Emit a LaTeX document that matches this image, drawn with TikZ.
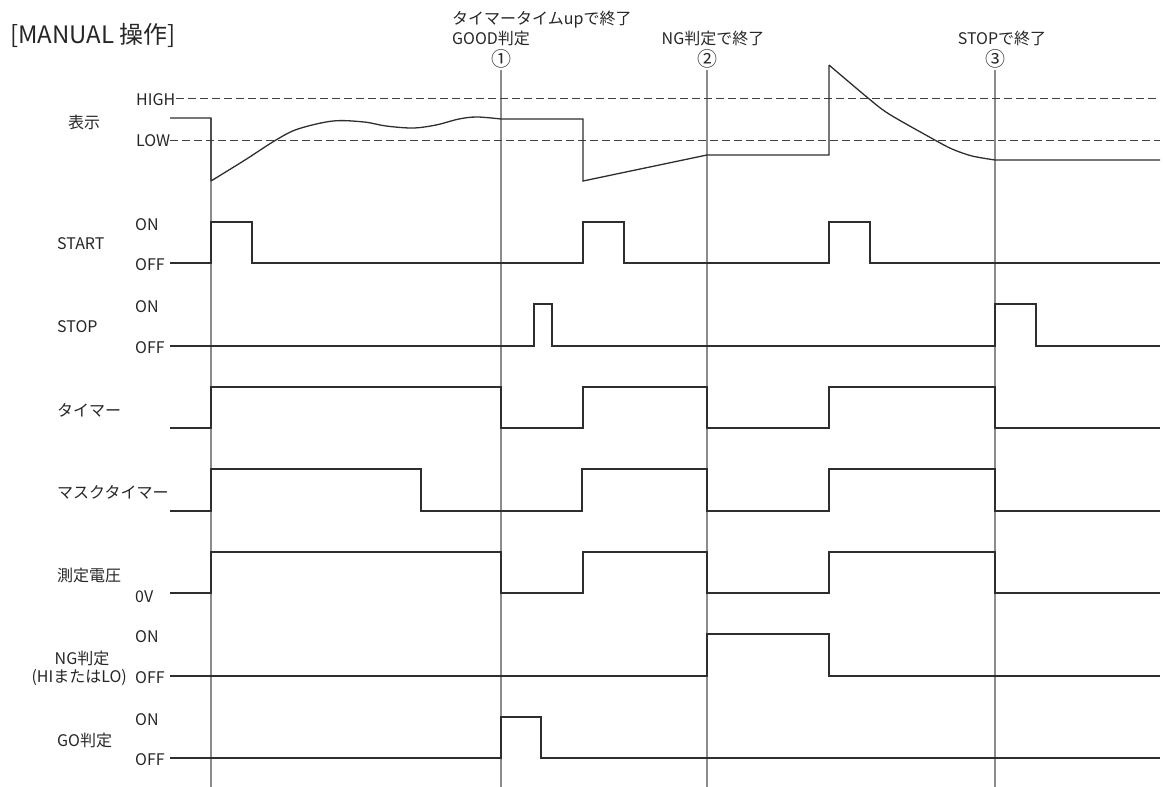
\documentclass[tikz,border=0pt]{standalone}
\usepackage{fontspec}
\setmainfont{Noto Sans CJK JP}
\begin{document}
\begin{tikzpicture}[x=1pt,y=-1pt,
  wave/.style={draw=black!82, line width=1.3pt, line join=miter},
  guide/.style={draw=black!45, line width=1.4pt},
  lvl/.style={draw=black!75, line width=1.0pt, dash pattern=on 8pt off 4pt},
  lbl/.style={font=\fontsize{16}{18}\selectfont, inner sep=0pt, text=black!85},
  circ/.style={font=\fontsize{20}{22}\selectfont, inner sep=0pt, text=black!85},
  ttl/.style={font=\fontsize{24}{26}\selectfont, inner sep=0pt, text=black!85},
]
\useasboundingbox (0,0) rectangle (1163,787);

% title and event captions
\node[ttl] (title) at (93,35) {[MANUAL 操作]};
\node[lbl, anchor=west] (ev1a) at (452,20) {タイマータイムupで終了};
\node[lbl, anchor=west] (ev1b) at (452,38) {GOOD判定};
\node[circ] (c1) at (501,59) {①};
\node[lbl] (ev2) at (713,38) {NG判定で終了};
\node[circ] (c2) at (707,59) {②};
\node[lbl] (ev3) at (1002,38) {STOPで終了};
\node[circ] (c3) at (995,59) {③};

% guide lines
\coordinate (g0t) at (211,118);
\coordinate (gb) at (0,787);
\draw[guide] (g0t) -- (g0t |- gb);
\draw[guide] (c1.south) ++(0,1) -- (c1 |- gb);
\draw[guide] (c2.south) ++(0,1) -- (c2 |- gb);
\draw[guide] (c3.south) ++(0,1) -- (c3 |- gb);

% display
\node[lbl] (disp) at (84,122) {表示};
\node[lbl, anchor=west] (high) at (136,100) {HIGH};
\node[lbl, anchor=west] (low) at (136,141) {LOW};
\coordinate (hiend) at (1160,98);
\coordinate (loend) at (1160,140);
\draw[lvl] (high.east |- hiend) ++(1,0) -- (hiend);
\draw[lvl] (170,140) -- (loend);
\draw[wave] (170,118) -- (211,118) -- (211,181)
  plot[smooth, tension=0.55] coordinates {(211,181) (245,160) (276,140) (298,129) (333,121) (364,122) (386,126) (413,128) (436,125) (459,119) (477,117) (501,119)}
  -- (583,119) -- (583,181) -- (707,155) -- (829,155) -- (829,65)
  plot[smooth, tension=0.5] coordinates {(829,65) (868,98) (889,114) (933,139) (952,149) (972,156) (995,160)}
  -- (1160,160);

% START
\node[lbl, anchor=west] (start) at (57,244) {START};
\node[lbl, anchor=west] (starton) at (135,225) {ON};
\node[lbl, anchor=west] (startoff) at (135,265) {OFF};
\draw[wave] (170,263) -- (211,263) -- (211,222) -- (252,222) -- (252,263) -- (583,263) -- (583,222) -- (624,222) -- (624,263) -- (829,263) -- (829,222) -- (870,222) -- (870,263) -- (1160,263);

% STOP
\node[lbl, anchor=west] (stop) at (57,327) {STOP};
\node[lbl, anchor=west] (stopon) at (135,307) {ON};
\node[lbl, anchor=west] (stopoff) at (135,348) {OFF};
\draw[wave] (170,346) -- (534,346) -- (534,304) -- (552,304) -- (552,346) -- (995,346) -- (995,304) -- (1036,304) -- (1036,346) -- (1160,346);

% timer
\node[lbl, anchor=west] (timer) at (57,410) {タイマー};
\draw[wave] (170,428) -- (211,428) -- (211,387) -- (501,387) -- (501,428) -- (583,428) -- (583,387) -- (707,387) -- (707,428) -- (829,428) -- (829,387) -- (995,387) -- (995,428) -- (1160,428);

% mask timer
\node[lbl, anchor=west] (mask) at (57,492) {マスクタイマー};
\draw[wave] (170,511) -- (211,511) -- (211,469) -- (421,469) -- (421,511) -- (582,511) -- (582,469) -- (707,469) -- (707,511) -- (829,511) -- (829,469) -- (995,469) -- (995,511) -- (1160,511);

% measuring voltage
\node[lbl, anchor=west] (volt) at (57,575) {測定電圧};
\node[lbl, anchor=west] (zerov) at (135,597) {0V};
\draw[wave] (170,593) -- (211,593) -- (211,552) -- (501,552) -- (501,593) -- (583,593) -- (583,552) -- (707,552) -- (707,593) -- (829,593) -- (829,552) -- (995,552) -- (995,593) -- (1160,593);

% NG
\node[lbl] (ng) at (82,658) {NG判定};
\node[lbl, anchor=east] (nghl) at (127,678) {(HIまたはLO)};
\node[lbl, anchor=west] (ngon) at (135,637) {ON};
\node[lbl, anchor=west] (ngoff) at (135,678) {OFF};
\draw[wave] (170,676) -- (707,676) -- (707,634) -- (829,634) -- (829,676) -- (1160,676);

% GO
\node[lbl, anchor=west] (go) at (57,740) {GO判定};
\node[lbl, anchor=west] (goon) at (135,720) {ON};
\node[lbl, anchor=west] (gooff) at (135,760) {OFF};
\draw[wave] (170,758) -- (501,758) -- (501,717) -- (541,717) -- (541,758) -- (1160,758);
\end{tikzpicture}
\end{document}
